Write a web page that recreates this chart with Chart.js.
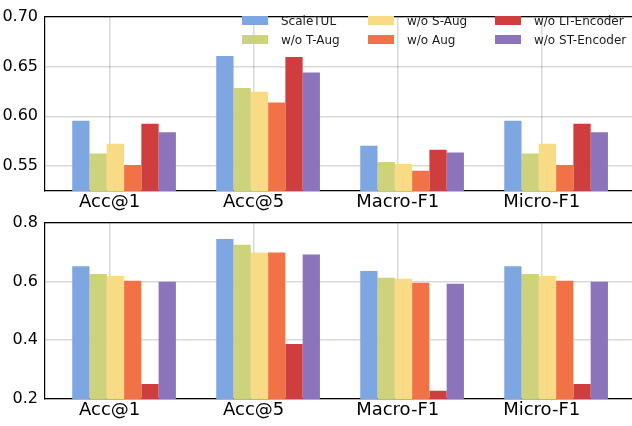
<!DOCTYPE html>
<html>
<head>
<meta charset="utf-8">
<script src="https://cdn.jsdelivr.net/npm/chart.js@4"></script>
<style>
    body { margin: 0; background: #fff; }
    #wrap { position: relative; width: 632px; height: 426px; overflow: hidden; font-family: "DejaVu Sans", sans-serif; }
    canvas { position: absolute; left: 0; }
    #chartTop { top: 0; }
    #chartBottom { top: 206px; }
    .item { position: absolute; height: 16px; line-height: 16px; font-size: 12px; color: #1a1a1a; white-space: nowrap; }
    .item .box { position: absolute; left: 0; top: 4px; width: 26px; height: 9px; }
    .item .txt { position: absolute; left: 39px; top: 1px; }
</style>
</head>
<body>
<div id="wrap">
    <canvas id="chartTop" width="632" height="212"></canvas>
    <canvas id="chartBottom" width="632" height="220"></canvas>
    <div id="legend"></div>
</div>
<script>
const categories = ["Acc@1", "Acc@5", "Macro-F1", "Micro-F1"];
const seriesNames = ["ScaleTUL", "w/o T-Aug", "w/o S-Aug", "w/o Aug", "w/o LT-Encoder", "w/o ST-Encoder"];
const seriesColors = ["#7ea6e0", "#cdd37a", "#fadb85", "#f37146", "#cf3d3e", "#8c74bb"];

// top panel values
const topScaleTUL = [0.5956, 0.6604, 0.5704, 0.5956];
const topNoTAug = [0.5627, 0.6284, 0.5540, 0.5627];
const topNoSAug = [0.5723, 0.6246, 0.5520, 0.5723];
const topNoAug = [0.5511, 0.6139, 0.5453, 0.5511];
const topNoLT = [0.5926, 0.6594, 0.5665, 0.5926];
const topNoST = [0.5839, 0.6439, 0.5636, 0.5839];
const topTicks = [0.55, 0.60, 0.65, 0.70];

// bottom panel values
const botScaleTUL = [0.6518, 0.7446, 0.6353, 0.6518];
const botNoTAug = [0.6253, 0.7247, 0.6121, 0.6253];
const botNoSAug = [0.6187, 0.6982, 0.6088, 0.6187];
const botNoAug = [0.6021, 0.6982, 0.5956, 0.6021];
const botNoLT = [0.2508, 0.3867, 0.2277, 0.2508];
const botNoST = [0.5988, 0.6916, 0.5923, 0.5988];
const botTicks = [0.2, 0.4, 0.6, 0.8];

const fontFamily = "DejaVu Sans";
const gridColor = "rgba(0,0,0,0.15)";
const groupShift = 0.1;      // bars sit a bit right of the tick, like the original
const xMin = -0.449;
const xMax = 3.627;

function makeChart(id, values, yMin, yMax, yTicks, decimals, padTop, xAxisHeight) {
    const ctx = document.getElementById(id).getContext("2d");
    return new Chart(ctx, {
        type: "bar",
        data: {
            datasets: seriesNames.map((name, k) => ({
                label: name,
                data: values[k].map((v, i) => ({ x: i + groupShift, y: v })),
                backgroundColor: seriesColors[k],
                borderWidth: 0,
                categoryPercentage: 0.72,
                barPercentage: 1
            }))
        },
        options: {
            responsive: false,
            animation: false,
            devicePixelRatio: 1,
            layout: { padding: { top: padTop, left: 0, right: 0, bottom: 0 } },
            plugins: { legend: { display: false }, tooltip: { enabled: false } },
            scales: {
                x: {
                    type: "linear",
                    position: "bottom",
                    min: xMin,
                    max: xMax,
                    offset: false,
                    z: 1,
                    afterBuildTicks: s => { s.ticks = categories.map((c, i) => ({ value: i })); },
                    afterFit: s => { s.height = xAxisHeight; },
                    ticks: {
                        callback: v => categories[v],
                        font: { family: fontFamily, size: 18 },
                        color: "#000",
                        padding: 1,
                        maxRotation: 0,
                        autoSkip: false
                    },
                    grid: { color: gridColor, lineWidth: 1.5, drawTicks: false, offset: false },
                    border: { color: "#000", width: 1.2 }
                },
                xTop: {
                    type: "linear",
                    position: "top",
                    min: xMin,
                    max: xMax,
                    offset: false,
                    z: 1,
                    afterFit: s => { s.height = 0; },
                    ticks: { display: false },
                    grid: { display: false, drawTicks: false, offset: false },
                    border: { color: "#000", width: 1.2 }
                },
                y: {
                    min: yMin,
                    max: yMax,
                    z: 1,
                    afterBuildTicks: s => { s.ticks = yTicks.map(v => ({ value: v })); },
                    afterFit: s => { s.width = 45; },
                    ticks: {
                        callback: v => v.toFixed(decimals),
                        font: { family: fontFamily, size: 16 },
                        color: "#000",
                        padding: 7
                    },
                    grid: { color: gridColor, lineWidth: 1.5, drawTicks: false },
                    border: { color: "#000", width: 1.2 }
                }
            }
        }
    });
}

makeChart("chartTop",
    [topScaleTUL, topNoTAug, topNoSAug, topNoAug, topNoLT, topNoST],
    0.525, 0.70, topTicks, 2, 10, 21);
makeChart("chartBottom",
    [botScaleTUL, botNoTAug, botNoSAug, botNoAug, botNoLT, botNoST],
    0.2, 0.8, botTicks, 1, 12, 27);

// legend, 3 columns x 2 rows in the top panel
const legendCols = [242, 368, 495];
const legendRows = [12, 31];
const legend = document.getElementById("legend");
seriesNames.forEach((name, k) => {
    const item = document.createElement("div");
    item.className = "item";
    item.style.left = legendCols[Math.floor(k / 2)] + "px";
    item.style.top = legendRows[k % 2] + "px";
    item.innerHTML = '<span class="box" style="background:' + seriesColors[k] + '"></span><span class="txt"></span>';
    item.querySelector(".txt").textContent = name;
    legend.appendChild(item);
});
</script>
</body>
</html>
